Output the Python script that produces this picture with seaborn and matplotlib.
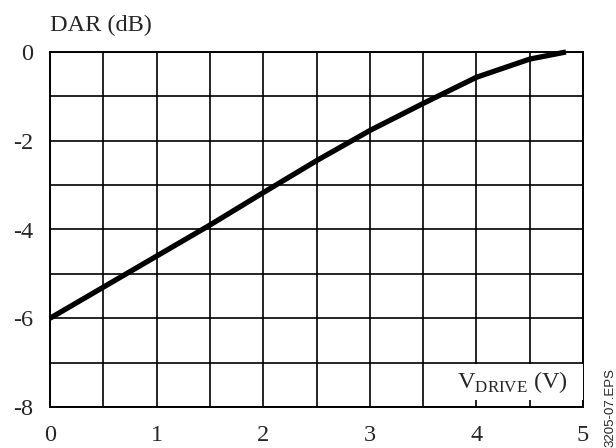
#DAR vs drive voltage chart, redrawn with seaborn
import numpy as np
import pandas as pd
import matplotlib
matplotlib.use("Agg")
import matplotlib.pyplot as plt
from matplotlib.patches import Rectangle
import seaborn as sns

#Values
v_drive = [0.0, 0.5, 1.0, 1.5, 2.0, 2.5, 3.0, 3.5, 4.0, 4.5, 4.84]
dar_db = [-6.0, -5.3, -4.6, -3.9, -3.17, -2.45, -1.77, -1.16, -0.57, -0.16, 0.0]

x_ticks = [0, 1, 2, 3, 4, 5]
y_ticks = [-8, -6, -4, -2, 0]
y_label = "DAR (dB)"
x_label = r"V$_{\mathrm{DRIVE}}$ (V)"
side_note = "3205-07.EPS"

df = pd.DataFrame({"v": v_drive, "dar": dar_db})

sns.set_style("white")
plt.rcParams["font.family"] = ["Liberation Serif", "DejaVu Serif"]
plt.rcParams["mathtext.fontset"] = "custom"
plt.rcParams["mathtext.rm"] = "Liberation Serif"
plt.rcParams["axes.unicode_minus"] = False

fig = plt.figure(figsize=(6.16, 4.48), dpi=100)
ax = fig.add_axes([50/616, 1-407/448, 533/616, 355/448])

sns.lineplot(x="v", y="dar", data=df, ax=ax, color="black", linewidth=3.8,
             solid_capstyle="butt", solid_joinstyle="round", clip_on=False, zorder=5)

ax.set_xlim(0, 5)
ax.set_ylim(-8, 0)
ax.set_xticks(x_ticks)
ax.set_yticks(y_ticks)
ax.set_xticks(np.arange(0, 5.01, 0.5), minor=True)
ax.set_yticks(np.arange(-8, 0.01, 1), minor=True)
ax.grid(True, which="both", color="black", linewidth=1.2)
ax.tick_params(which="both", length=0, labelsize=17.5)
ax.tick_params(axis="x", pad=13)
ax.tick_params(axis="y", pad=12)
for s in ax.spines.values():
    s.set_color("black")
    s.set_linewidth(1.4)
ax.set_xlabel("")
ax.set_ylabel("")

#axis titles
fig.text(50/616, 1-25/448, y_label, fontsize=17.5, ha="left", va="center")
#white patch behind the x label (covers the grid like the original)
ax.add_patch(Rectangle((0.765, 0.02), 0.235, 0.1, transform=ax.transAxes,
                       facecolor="white", edgecolor="none", zorder=3))
ax.text(0.972, 0.07, x_label, transform=ax.transAxes, fontsize=17.5,
        ha="right", va="center", zorder=6)

#rotated file tag on right edge
fig.text(610/616, 0.002, side_note, rotation=90, fontsize=9.5,
         family="Liberation Sans", ha="center", va="bottom")

fig.savefig("out.png", dpi=100)
